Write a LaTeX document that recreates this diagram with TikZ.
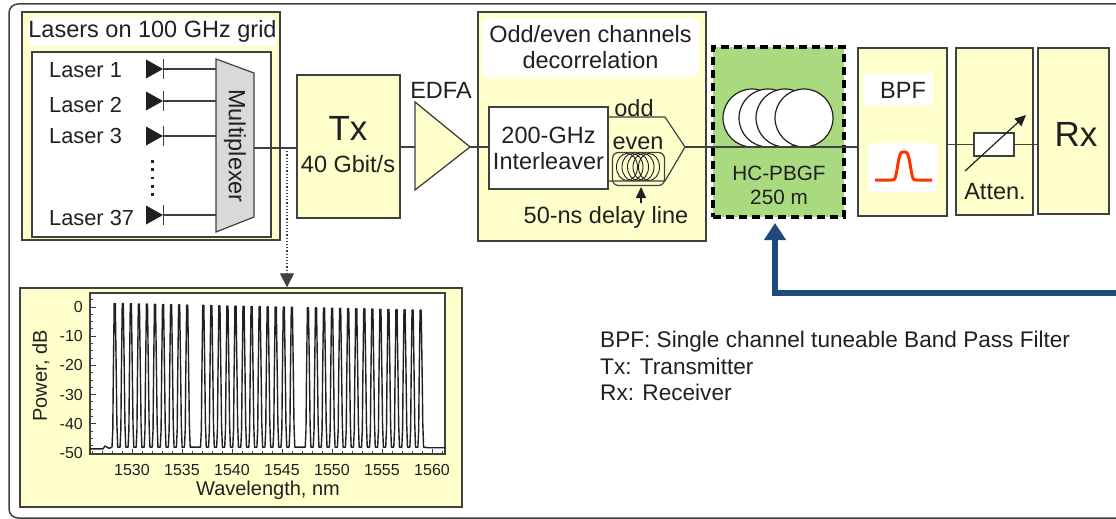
\documentclass[tikz,border=0pt]{standalone}
\usepackage{fontspec}
\setmainfont{Liberation Sans}
\usepackage{xcolor}
\usepackage{tikz}
\usetikzlibrary{positioning, arrows.meta}

\definecolor{paleyellow}{RGB}{255,255,204}
\definecolor{fibregreen}{RGB}{170,218,128}
\definecolor{linegray}{RGB}{64,64,64}
\definecolor{ink}{RGB}{35,31,32}
\definecolor{muxgray}{RGB}{217,217,217}
\definecolor{filterred}{RGB}{255,51,0}
\definecolor{loopblue}{RGB}{31,73,125}

\tikzset{
    >={Triangle[length=11pt, width=10pt]},          % filled arrow heads
    every node/.style={inner sep=0pt, text=ink},
    txt/.style={font=\fontsize{23.5}{26}\selectfont},
    keytxt/.style={font=\fontsize{22.6}{26}\selectfont},
    bigtxt/.style={font=\fontsize{35}{40}\selectfont},   % Tx / Rx
    lasertxt/.style={font=\fontsize{21.8}{26}\selectfont},
    fibretxt/.style={font=\fontsize{20.7}{24}\selectfont},
    axtxt/.style={font=\fontsize{20}{24}\selectfont},
    ticktxt/.style={font=\fontsize{16}{19}\selectfont},
    block/.style={draw=linegray, fill=paleyellow, line width=1.3pt},  % yellow stage boxes
    whitebox/.style={draw=linegray, fill=white, line width=1.3pt},
    tag/.style={fill=white, rounded corners=7pt},   % white caption patches
    wire/.style={draw=linegray, line width=1.2pt},
    tick/.style={draw=linegray, line width=1pt},
    feedback/.style={draw=loopblue, line width=5.5pt, -{Triangle[length=17pt, width=21pt]}},
}

\begin{document}
\begin{tikzpicture}[x=1pt, y=-1pt]
\useasboundingbox (0,0) rectangle (1116,519);
\clip (0,0) rectangle (1116,519);

% outer frame
\draw[draw=linegray, line width=1.5pt, rounded corners=9pt] (9,4) rectangle (1150,518);

% laser bank + mux
\node[block, minimum width=258pt, minimum height=228pt] (bank) at (151,126) {};
\node[tag, txt, minimum width=249pt, minimum height=29pt] (banktitle) at (152.5,31.5) {Lasers on 100 GHz grid};
\node[whitebox, minimum width=239pt, minimum height=185pt] (lasers) at (151.5,144.5) {};

\draw[wire, fill=muxgray] (216,59) -- (254,73) -- (254,217) -- (216,232) -- cycle;
\node[txt, rotate=-90] (muxlabel) at (235,146) {Multiplexer};
\coordinate (muxin) at (216,146);
\coordinate (muxout) at (254,148);

\foreach \y/\ty/\n in {69/70.5/1, 101/104.5/2, 136/135.5/3, 215/217.5/37}{
    \node[lasertxt, anchor=west] (laser\n) at (49,\ty) {Laser \n};
    \coordinate (diode\n) at (163,\y);
    \fill[ink] (146,\y-9.5) -- (146,\y+9.5) -- (diode\n) -- cycle;
    \draw[wire] (163.5,\y-10) -- (163.5,\y+10);
    \draw[wire] (diode\n) -- (diode\n -| muxin);
}
\foreach \i in {0,...,4}
    \fill[ink] (151,160+8.3*\i) rectangle ++(2.8,2.8);

% transmitter
\node[block, minimum width=103pt, minimum height=143pt] (tx) at (348.5,146.5) {};
\node[bigtxt] (txname) at (348,128) {Tx};
\node[txt] (txrate) at (348,164) {40 Gbit/s};
\draw[wire] (muxout) -- (tx.west |- muxout);

% amplifier
\coordinate (edfain) at (415,147);
\coordinate (edfaout) at (470,147);
\draw[block] (415,102) -- (edfaout) -- (415,190) -- cycle;
\node[txt] (edfalabel) at (441,90) {EDFA};
\draw[wire] (tx.east |- edfain) -- (edfain);

% odd/even decorrelation
\node[block, minimum width=228pt, minimum height=229pt] (decor) at (592,126.5) {};
\node[tag, txt, align=center, minimum width=217pt, minimum height=59pt] (decortitle) at (590.5,47.5) {Odd/even channels\\decorrelation};
\node[whitebox, txt, align=center, minimum width=119pt, minimum height=82pt] (ilv) at (548.5,148) {200-GHz\\Interleaver};
\draw[wire] (edfaout) -- (ilv.west |- edfaout);

\coordinate (combout) at (685,147);
\draw[wire] (ilv.east |- 0,117) -- (665,117) -- (combout);
\node[txt] (oddlabel) at (634,108.5) {odd};
\node[draw=linegray, line width=1.2pt, rounded corners=6pt, minimum width=52pt, minimum height=33pt] (delay) at (638.5,169) {};
\foreach \cx in {627,632.5,638,643.5,649}
    \draw[draw=ink, line width=0.9pt] (\cx,167) ellipse [x radius=10.5pt, y radius=13.5pt];
\draw[wire] (ilv.east |- 0,181) -- (665,181) -- (combout);
\node[txt] (evenlabel) at (638,143) {even};
\draw[->, draw=ink, line width=1.2pt] (641,203) -- (641,187);
\node[txt] (delaylabel) at (606,217) {50-ns delay line};

% hollow-core fibre under test
\node[draw=black, fill=fibregreen, line width=3.5pt, dash pattern=on 8pt off 5pt, minimum width=131pt, minimum height=170pt] (hc) at (778.5,132) {};
\foreach \cx in {752,768,785,804}
    \draw[draw=ink, fill=white, line width=1.2pt] (\cx,118) circle [radius=29pt];
\node[fibretxt, align=center] (hclabel) at (779,185) {HC-PBGF\\250 m};

% filter
\node[block, minimum width=89pt, minimum height=168pt] (bpf) at (902.5,132) {};
\node[fill=white, minimum width=70pt, minimum height=32pt] (bpftag) at (898,89) {};
\node[txt] (bpflabel) at (903,90) {BPF};
\node[tag, rounded corners=4pt, minimum width=69pt, minimum height=49pt] (bpficon) at (902.5,167.5) {};
\draw[draw=filterred, line width=3pt] plot[domain=-29:28, samples=90, smooth]
    ({904+\x}, {180-28*exp(-(\x*\x/49)*(\x*\x/49))});
\draw[wire] (combout) -- (bpf.west |- combout);

% attenuator
\node[block, minimum width=77pt, minimum height=167pt] (atten) at (994.5,131.5) {};
\node[whitebox, minimum width=40pt, minimum height=23pt] (res) at (994,144.5) {};
\draw[->, draw=ink, line width=1.2pt] (965,171) -- (1026,115);
\node[txt] (attenlabel) at (995,192) {Atten.};

% receiver
\node[block, minimum width=71pt, minimum height=166pt] (rx) at (1073.5,131) {};
\node[bigtxt] (rxname) at (1076,134) {Rx};

\draw[wire] (bpf.east |- res) -- (res.west);
\draw[wire] (res.east) -- (rx.west |- res);

% loop back into the fibre
\coordinate (fbin) at (775,223);
\coordinate (fbend) at (1130,293);
\draw[feedback] (fbend) -| (fbin);

% key
\node[keytxt, anchor=base west] (keybpf) at (600,347) {BPF: Single channel tuneable Band Pass Filter};
\node[keytxt, anchor=base west] (keytx) at (600,374) {Tx: Transmitter};
\node[keytxt, anchor=base west] (keyrx) at (600,400.5) {Rx: Receiver};

% spectrum at the mux output
\node[block, minimum width=442pt, minimum height=219pt] (plotbox) at (241,397.5) {};
\node[draw=linegray, fill=white, line width=1.1pt, minimum width=355pt, minimum height=161pt] (axes) at (267.5,373.5) {};
\coordinate (tap) at (287,148);
\draw[wire, dotted, -{Triangle[length=14pt, width=14pt]}] (tap) -- (tap |- plotbox.north);

\coordinate (origin) at (132,307);
\begin{scope}[shift={(origin)}, x=10pt, y=2.92pt]
    \foreach \d in {2.5,0,-2.5,...,-50}
        \draw[tick] (-4.2,\d) -- (-3.9,\d);
    \foreach \d [count=\i] in {0,-10,...,-50}{
        \draw[tick] (-4.2,\d) -- (-3.65,\d);
        \node[ticktxt, anchor=east] (ytick\i) at (-4.9,\d) {\d};
    }
    \foreach \w in {-4,...,31}
        \draw[tick] (\w,-50.34) -- (\w,-49.3);
    \foreach \w [count=\i, evaluate=\w as \lab using int(1530+\w)] in {0,5,...,30}{
        \draw[tick] (\w,-50.34) -- (\w,-48.6);
        \node[ticktxt] (xtick\i) at (\w,-55.8) {\lab};
    }
    \node[axtxt, rotate=90] (ylabel) at (-9.1,-23.6) {Power, dB};
    \node[axtxt] (xlabel) at (13.6,-62.7) {Wavelength, nm};

    \draw[draw=ink, line width=1.4pt, line join=round]
        (-4.2,-48.6) -- (-2.9,-48.6) -- (-2.7,-47.6) -- (-2.3,-48.4)
        \foreach \k [evaluate=\k as \l using -1.7+0.805*\k,
                     evaluate=\k as \t using 1.2-0.06*\k]
            in {0,...,9,11,12,...,22,24,25,...,38}{
            -- (\l-0.3,-48) -- (\l-0.22,-42) -- (\l-0.17,-24) -- (\l-0.08,\t)
            -- (\l+0.03,\t) -- (\l+0.13,-24) -- (\l+0.19,-40) -- (\l+0.27,-48)
        }
        -- (29.6,-48.2) -- (31.3,-48.2);
\end{scope}

\end{tikzpicture}
\end{document}
